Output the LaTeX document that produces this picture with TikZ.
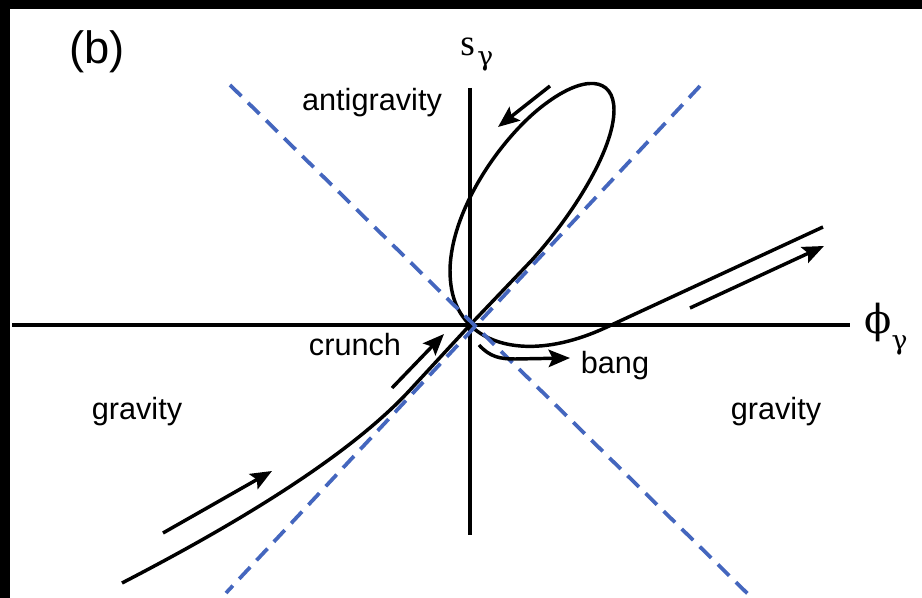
\documentclass[tikz,border=0pt]{standalone}
\usepackage{fontspec}
\setmainfont{Liberation Sans}
\newfontfamily\greekfont{DejaVu Serif}
\newfontfamily\sfont{Liberation Serif}
\usetikzlibrary{arrows.meta}
\definecolor{dashblue}{RGB}{68,102,190}
\begin{document}
\begin{tikzpicture}[x=0.75pt,y=-0.75pt,
  axis/.style={line width=2.3pt},
  guide/.style={dashblue,line width=2.8pt,dash pattern=on 12pt off 7pt},
  traj/.style={line width=2.6pt},
  flow/.style={line width=2.6pt,-{Stealth[length=16pt,width=13pt,inset=3pt]}},
  lbl/.style={font=\fontsize{23}{27}\selectfont,inner sep=0pt}]
\useasboundingbox (0,0) rectangle (922,598);
\fill[white] (0,0) rectangle (922,598);
\fill[black] (0,0) rectangle (922,9);
\fill[black] (0,0) rectangle (10,598);
% axes
\coordinate (O) at (470,325);
\coordinate (xl) at (12,325);
\coordinate (xr) at (850,325);
\coordinate (yt) at (470,88);
\coordinate (yb) at (470,535);
\draw[axis] (xl) -- (xr);
\draw[axis] (yt) -- (yb);
% trajectory
\coordinate (start) at (122,583);
\coordinate (merge) at (410,390);
\coordinate (rise) at (532,260);
\coordinate (right) at (614,110);
\coordinate (topl) at (540,108);
\coordinate (left) at (450,270);
\coordinate (cross) at (607,327);
\coordinate (end) at (823,227);
\draw[traj] (start) .. controls (240,522) and (350,455) .. (merge) -- (O) -- (rise)
  .. controls (572,216) and (614,150) .. (right)
  .. controls (614,78) and (585,72) .. (topl)
  .. controls (500,140) and (451,210) .. (left)
  .. controls (450,300) and (460,315) .. (O)
  .. controls (495,350) and (545,356) .. (cross) -- (end);
% guides
\coordinate (g1a) at (230,85);
\coordinate (g1b) at (752,598);
\coordinate (g2a) at (700,86);
\coordinate (g2b) at (226,593);
\draw[guide] (g1a) -- (g1b);
\draw[guide] (g2a) -- (g2b);
% flow arrows
\coordinate (a1s) at (163,533); \coordinate (a1e) at (272,471);
\coordinate (a2s) at (392,388); \coordinate (a2e) at (444,334);
\coordinate (a3s) at (550,86);  \coordinate (a3e) at (498,127);
\coordinate (a4s) at (690,308); \coordinate (a4e) at (824,246);
\coordinate (a5s) at (479,345); \coordinate (a5m) at (515,359); \coordinate (a5e) at (570,358);
\draw[flow] (a1s) -- (a1e);
\draw[flow] (a2s) -- (a2e);
\draw[flow] (a3s) -- (a3e);
\draw[flow] (a4s) -- (a4e);
\draw[flow] (a5s) .. controls (490,357) and (500,359) .. (a5m) -- (a5e);
% labels
\node[lbl,font=\fontsize{34}{40}\selectfont] (b) at (97,52) {(b)};
\node[lbl] (anti) at (372,103) {antigravity};
\node[lbl] (crunch) at (355,345) {crunch};
\node[lbl] (bang) at (615,366) {bang};
\node[lbl] (gl) at (137,412) {gravity};
\node[lbl] (gr) at (776,412) {gravity};
\node[inner sep=0pt,anchor=base west,font=\sfont\fontsize{28}{32}\selectfont] (sg) at (460,56) {s\hspace{2pt}\raisebox{-7pt}{\greekfont\fontsize{20}{24}\selectfont γ}};
\node[inner sep=0pt,anchor=base west,font=\greekfont\fontsize{30}{34}\selectfont] (pg) at (864,334) {ϕ\raisebox{-12pt}{\fontsize{20}{24}\selectfont γ}};
\end{tikzpicture}
\end{document}
